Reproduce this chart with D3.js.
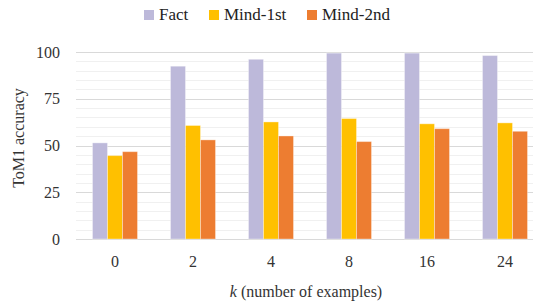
<!DOCTYPE html>
<html>
<head>
<meta charset="utf-8">
<script src="https://cdn.jsdelivr.net/npm/d3@7"></script>
<style>
  body { margin: 0; background: #fff; }
</style>
</head>
<body>
<div id="chart"></div>
<script>
// data
var categories = ["0", "2", "4", "8", "16", "24"];
var seriesNames = ["Fact", "Mind-1st", "Mind-2nd"];
var factValues = [51.4, 92.4, 96.1, 99.4, 99.4, 98.1];
var mind1stValues = [44.6, 60.7, 62.6, 64.4, 61.6, 62.1];
var mind2ndValues = [46.7, 53.0, 55.1, 52.1, 59.0, 57.6];
var yTicks = [0, 25, 50, 75, 100];
var colors = ["#bdb9da", "#ffc000", "#ed7d31"];

var width = 533, height = 302;
var margin = {top: 52, left: 76, bottom: 63};
var plotRight = 544; // the plot runs past the right edge in the reference
var fontFamily = "'Liberation Serif', 'Times New Roman', 'DejaVu Serif', serif";

var svg = d3.select('#chart').append('svg')
    .attr('width', width)
    .attr('height', height)
    .attr('font-family', fontFamily)
    .style('font-family', fontFamily)
    .style('display', 'block');

var x = d3.scaleBand()
    .domain(categories)
    .range([margin.left, plotRight])
    .paddingInner(0.423)
    .paddingOuter(0.2115);

var xInner = d3.scaleBand()
    .domain(seriesNames)
    .range([0, x.bandwidth()]);

var y = d3.scaleLinear()
    .domain([0, 100])
    .range([height - margin.bottom, margin.top]);

// minor gridlines every 5, major every 25
var minor = d3.range(5, 100, 5).filter(function(v){ return v % 25 != 0; });
svg.append('g').selectAll('line').data(minor).enter()
    .append('line')
    .attr('x1', margin.left).attr('x2', width)
    .attr('y1', function(d){ return Math.round(y(d)) + 0.5; })
    .attr('y2', function(d){ return Math.round(y(d)) + 0.5; })
    .attr('stroke', '#f0f0f0');

svg.append('g').selectAll('line').data(yTicks).enter()
    .append('line')
    .attr('x1', margin.left).attr('x2', width)
    .attr('y1', function(d){ return Math.round(y(d)) + 0.5; })
    .attr('y2', function(d){ return Math.round(y(d)) + 0.5; })
    .attr('stroke', '#d9d9d9');

// bars
var rows = categories.map(function(c, i){
    return {cat: c, vals: [factValues[i], mind1stValues[i], mind2ndValues[i]]};
});

var groups = svg.append('g').selectAll('g').data(rows).enter()
    .append('g')
    .attr('transform', function(d){ return 'translate(' + x(d.cat) + ',0)'; });

groups.selectAll('rect')
    .data(function(d){
        return d.vals.map(function(v, j){ return {name: seriesNames[j], value: v, idx: j}; });
    })
    .enter().append('rect')
    .attr('x', function(d){ return xInner(d.name); })
    .attr('width', xInner.bandwidth())
    .attr('y', function(d){ return y(d.value); })
    .attr('height', function(d){ return y(0) - y(d.value); })
    .attr('fill', function(d){ return colors[d.idx]; })
    .attr('stroke', 'rgba(255,255,255,0.35)')
    .attr('stroke-width', 1);

// y tick labels
svg.append('g').selectAll('text').data(yTicks).enter()
    .append('text')
    .attr('x', 60)
    .attr('y', function(d){ return y(d); })
    .attr('dy', '0.35em')
    .attr('text-anchor', 'end')
    .attr('font-size', 16)
    .attr('fill', '#333')
    .text(function(d){ return d; });

// x tick labels
svg.append('g').selectAll('text').data(categories).enter()
    .append('text')
    .attr('x', function(d){ return x(d) + x.bandwidth() / 2; })
    .attr('y', 267)
    .attr('text-anchor', 'middle')
    .attr('font-size', 16)
    .attr('fill', '#333')
    .text(function(d){ return d; });

// axis titles
var xTitle = svg.append('text')
    .attr('x', 306)
    .attr('y', 297)
    .attr('text-anchor', 'middle')
    .attr('font-size', 16)
    .attr('fill', '#333');
xTitle.append('tspan').attr('font-style', 'italic').text('k');
xTitle.append('tspan').text(' (number of examples)');

svg.append('text')
    .attr('transform', 'translate(24,' + 138 + ') rotate(-90)')
    .attr('text-anchor', 'middle')
    .attr('font-size', 16)
    .attr('fill', '#333')
    .text('ToM1 accuracy');

// legend
var legendX = [144, 209, 307];
var legend = svg.append('g').selectAll('g').data(seriesNames).enter()
    .append('g')
    .attr('transform', function(d, i){ return 'translate(' + legendX[i] + ',10)'; });

legend.append('rect')
    .attr('width', 10).attr('height', 10)
    .attr('fill', function(d, i){ return colors[i]; });

legend.append('text')
    .attr('x', 15)
    .attr('y', 10)
    .attr('font-size', 17)
    .attr('fill', '#222')
    .text(function(d){ return d; });
</script>
</body>
</html>
